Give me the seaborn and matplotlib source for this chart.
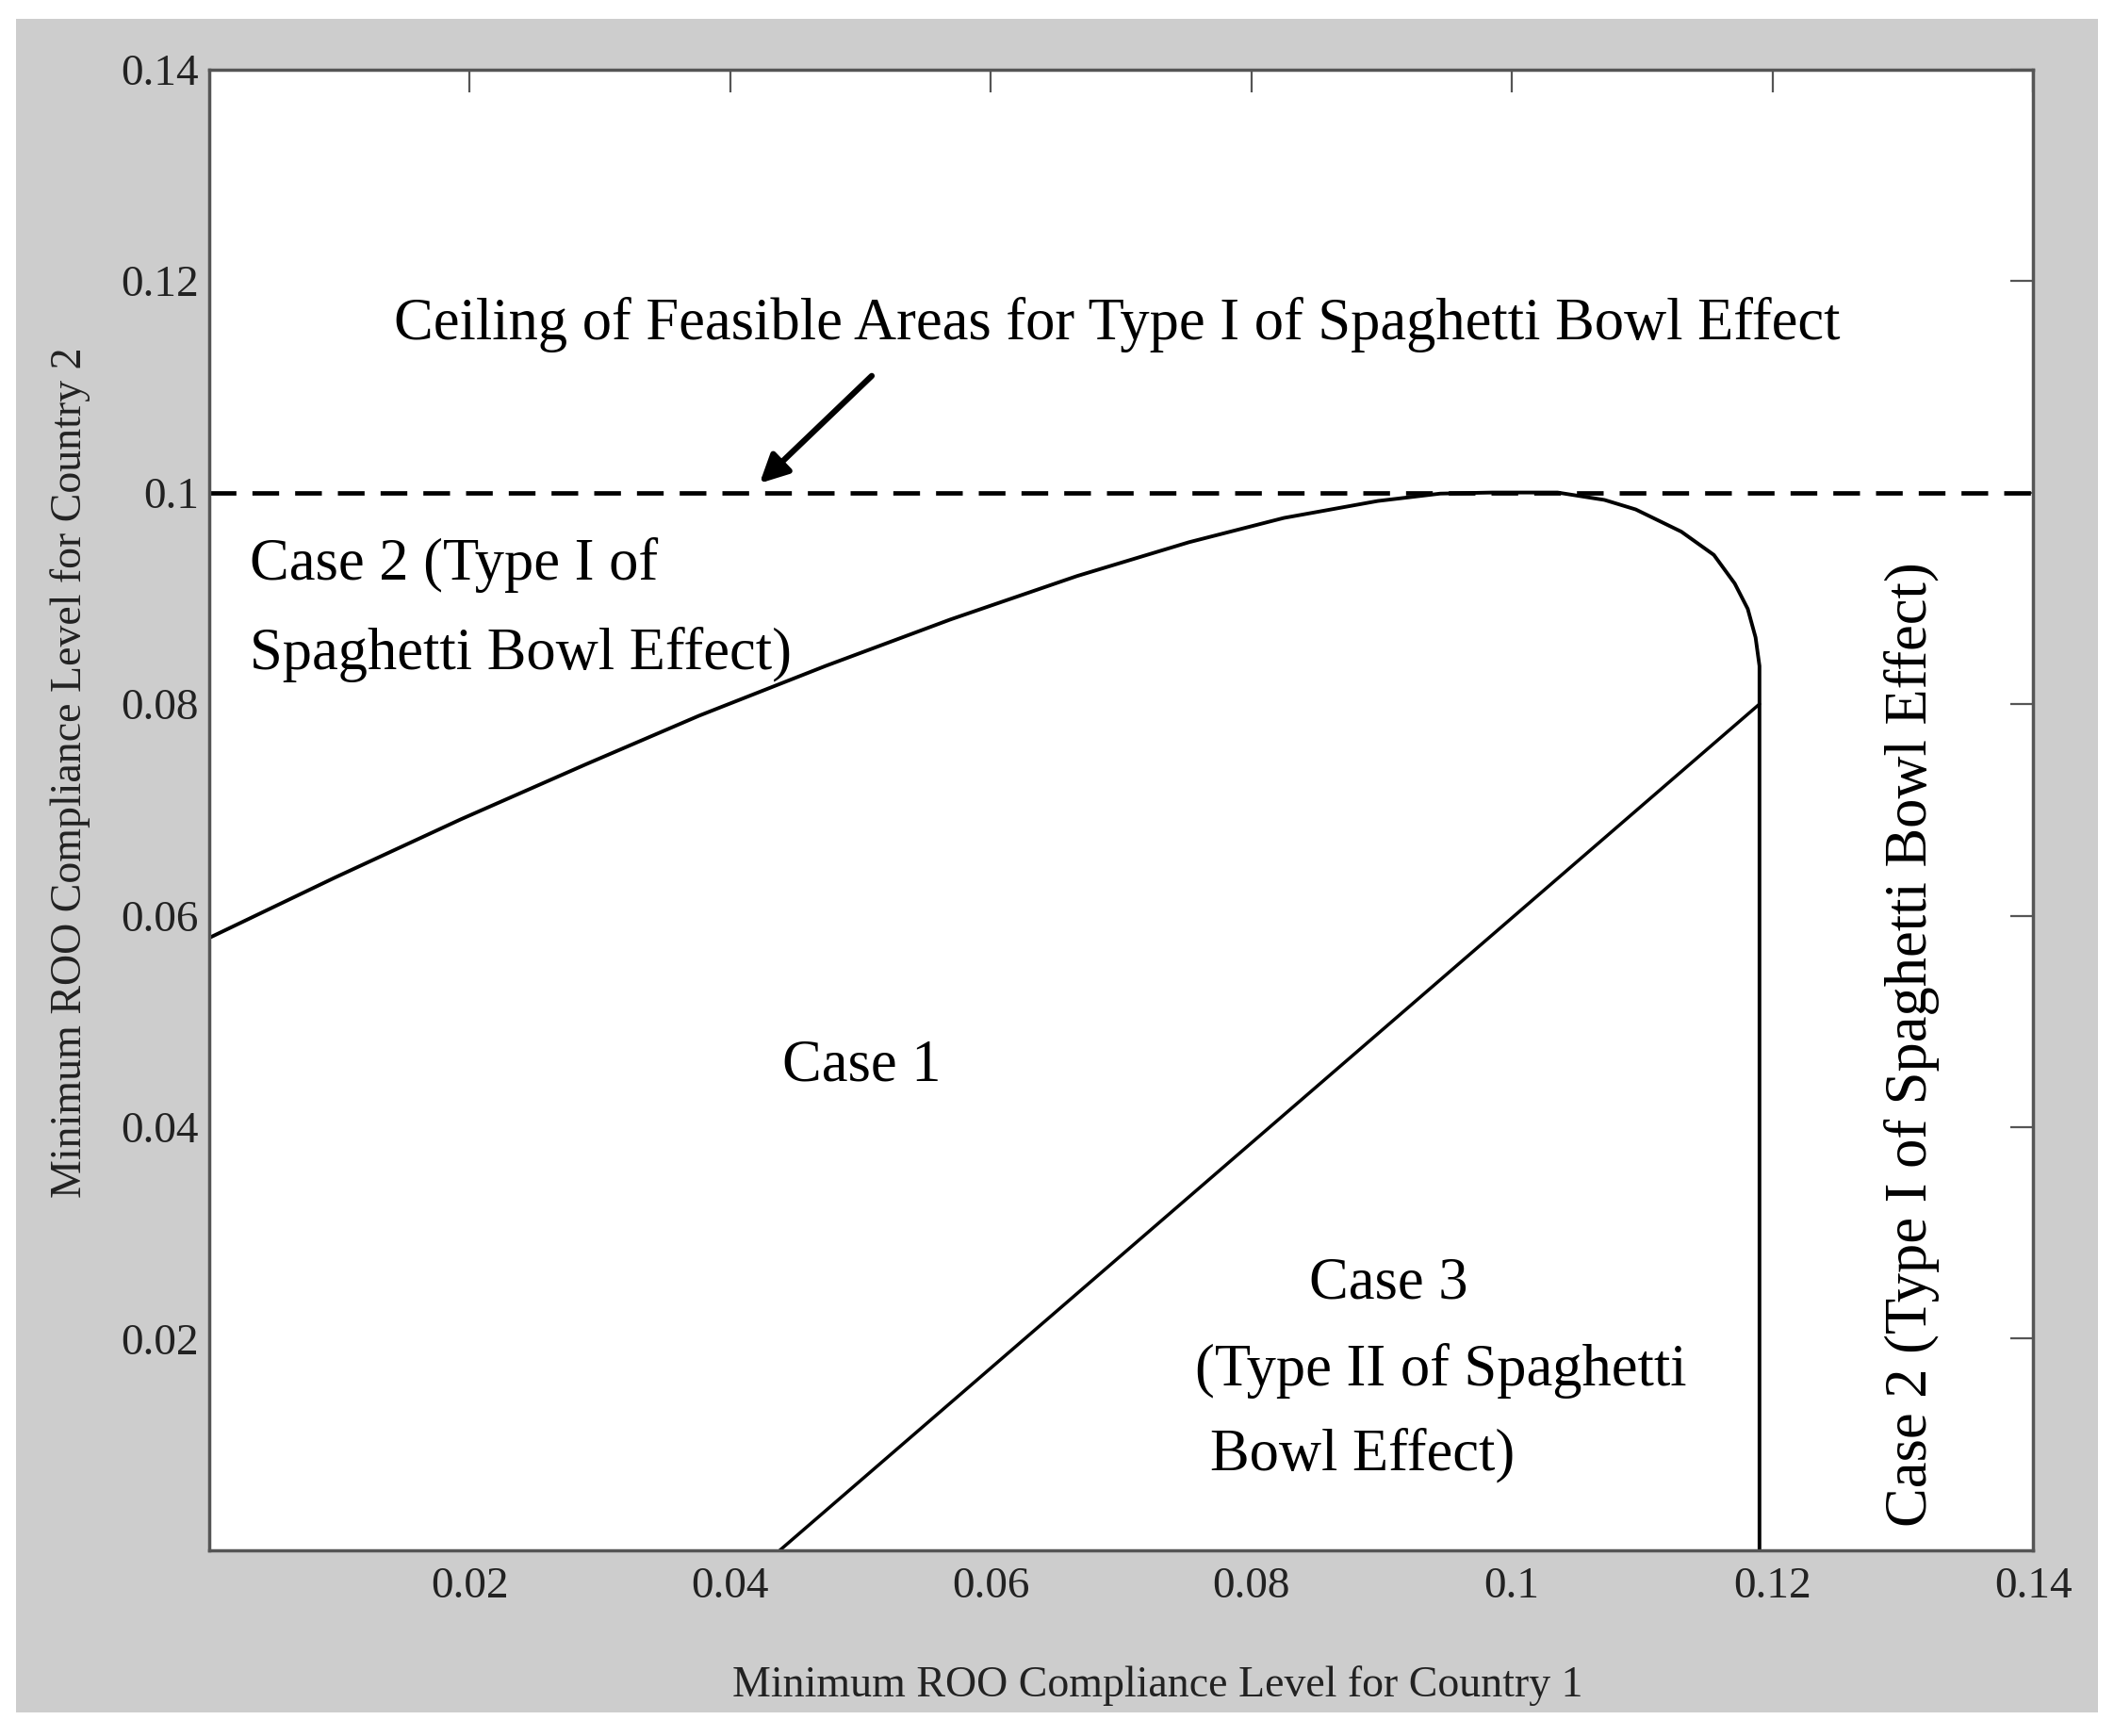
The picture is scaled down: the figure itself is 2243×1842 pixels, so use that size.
import pandas as pd
import seaborn as sns
import matplotlib.pyplot as plt
from matplotlib.patches import Rectangle

# outer boundary of the feasible area (curve, then straight down at x ~ 0.119)
boundary_x = [0.0, 0.00965, 0.0193, 0.0289, 0.0376, 0.0473, 0.0569, 0.0666, 0.0752, 0.0825,
              0.0897, 0.0945, 0.0985, 0.1035, 0.1071, 0.1095, 0.113, 0.1155, 0.1171, 0.1181,
              0.1187, 0.119, 0.119]
boundary_y = [0.0579, 0.0636, 0.0691, 0.0743, 0.0789, 0.0836, 0.0880, 0.0921, 0.0953, 0.0976,
              0.0992, 0.0999, 0.1, 0.1, 0.0993, 0.0984, 0.0963, 0.0941, 0.0914, 0.0890,
              0.0863, 0.0836, 0.0]

# border between case 1 and case 3
case3_x = [0.0438, 0.119]
case3_y = [0.0, 0.080]

# ceiling line
ceiling_y = 0.1

x_ticks = [0.02, 0.04, 0.06, 0.08, 0.1, 0.12, 0.14]
y_ticks = [0.02, 0.04, 0.06, 0.08, 0.1, 0.12, 0.14]
tick_labels = ['0.02', '0.04', '0.06', '0.08', '0.1', '0.12', '0.14']

df_boundary = pd.DataFrame({'x': boundary_x, 'y': boundary_y})
df_case3 = pd.DataFrame({'x': case3_x, 'y': case3_y})

sns.set_theme(style='white')
plt.rcParams['font.family'] = ['Liberation Serif', 'DejaVu Serif']

fig = plt.figure(figsize=(22.43, 18.42), dpi=100)
fig.patch.set_facecolor('white')
fig.patches.append(Rectangle((0.0076, 0.0136), 0.9848, 0.9754, transform=fig.transFigure,
                             facecolor='#cdcdcd', edgecolor='none', zorder=-10))

ax = fig.add_axes([0.099, 0.107, 0.8627, 0.853])
ax.set_facecolor('white')

sns.lineplot(data=df_boundary, x='x', y='y', sort=False, estimator=None,
             color='black', linewidth=2.8, ax=ax)
sns.lineplot(data=df_case3, x='x', y='y', sort=False, estimator=None,
             color='black', linewidth=2.5, ax=ax)
ax.axhline(ceiling_y, color='black', linewidth=3.4, linestyle=(0, (6.0, 3.6)))

ax.annotate('', xy=(0.0421, 0.1007), xytext=(0.051, 0.1112),
            arrowprops=dict(arrowstyle='-|>', color='black', lw=4.5, mutation_scale=45))

txt = dict(fontsize=45, color='black')
ax.text(0.0142, 0.1145, 'Ceiling of Feasible Areas for Type I of Spaghetti Bowl Effect', **txt)
ax.text(0.0031, 0.0918, 'Case 2 (Type I of', **txt)
ax.text(0.0031, 0.0833, 'Spaghetti Bowl Effect)', **txt)
ax.text(0.044, 0.0444, 'Case 1', **txt)
ax.text(0.0905, 0.0238, 'Case 3', ha='center', **txt)
ax.text(0.0757, 0.01556, '(Type II of Spaghetti', **txt)
ax.text(0.0768, 0.00765, 'Bowl Effect)', **txt)
ax.text(0.1307, 0.0478, 'Case 2 (Type I of Spaghetti Bowl Effect)', rotation=90,
        ha='center', va='center', **txt)

ax.set_xlim(0, 0.14)
ax.set_ylim(0, 0.14)
ax.set_xticks(x_ticks)
ax.set_xticklabels(tick_labels)
ax.set_yticks(y_ticks)
ax.set_yticklabels(tick_labels)
ax.tick_params(direction='in', length=17, width=1.6, color='#555555', labelsize=34,
               labelcolor='#222222', top=True, right=True, pad=13)
ax.tick_params(axis='y', pad=8)

for s in ax.spines.values():
    s.set_color('#555555')
    s.set_linewidth(2.5)
    s.set_visible(True)

ax.set_xlabel('Minimum ROO Compliance Level for Country 1', fontsize=33, color='#222222')
ax.set_ylabel('Minimum ROO Compliance Level for Country 2', fontsize=33, color='#222222')
ax.xaxis.set_label_coords(0.52, -0.078)
ax.yaxis.set_label_coords(-0.065, 0.525)

fig.savefig('out.png', dpi=100, facecolor='white')
